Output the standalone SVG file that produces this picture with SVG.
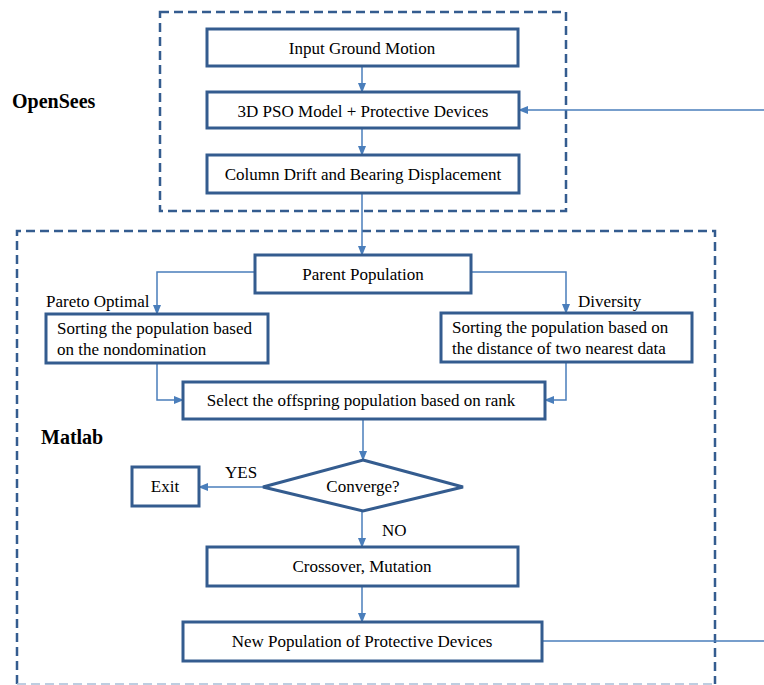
<svg xmlns="http://www.w3.org/2000/svg" width="764" height="685" viewBox="0 0 764 685">
<defs>
<marker id="ah" markerWidth="10" markerHeight="8" refX="9" refY="4" orient="auto" markerUnits="userSpaceOnUse">
<path d="M0,0 L10,4 L0,8 Z" fill="#4A7EBB"/>
</marker>
<style>
.box{fill:#fff;stroke:#345C8F;stroke-width:3}
.grp{fill:none;stroke:#345C8F;stroke-width:2.5;stroke-dasharray:9,5}
.c{fill:none;stroke:#4A7EBB;stroke-width:1.5}
.t{font-family:"Liberation Serif",serif;font-size:17px;fill:#000}
.m{text-anchor:middle}
.b{font-family:"Liberation Serif",serif;font-size:20px;font-weight:bold;fill:#000}
</style>
</defs>
<rect class="grp" x="160" y="12" width="406" height="199"/>
<path class="grp" d="M17,684 V231 H715 V684"/>
<path d="M17,684 H715" fill="none" stroke="#A9BED8" stroke-width="1.5" stroke-dasharray="9,5"/>
<text class="b" x="12" y="108">OpenSees</text>
<text class="b" x="41" y="444">Matlab</text>
<g id="connectors">
<path class="c" d="M362,66 V92" marker-end="url(#ah)"/>
<path class="c" d="M362,128 V155" marker-end="url(#ah)"/>
<path class="c" d="M362,193 V255" marker-end="url(#ah)"/>
<path class="c" d="M764,110 H519" marker-end="url(#ah)"/>
<path class="c" d="M255,272 H157 V314" marker-end="url(#ah)"/>
<path class="c" d="M471,272 H566 V313" marker-end="url(#ah)"/>
<path class="c" d="M157,363 V400 H183" marker-end="url(#ah)"/>
<path class="c" d="M566,362 V400 H545" marker-end="url(#ah)"/>
<path class="c" d="M363,419 V460" marker-end="url(#ah)"/>
<path class="c" d="M263,487 H199" marker-end="url(#ah)"/>
<path class="c" d="M362,511 V547" marker-end="url(#ah)"/>
<path class="c" d="M362,586 V622" marker-end="url(#ah)"/>
<path class="c" d="M542,641 H764"/>
</g>
<g id="n1"><rect class="box" x="207" y="29" width="311" height="37"/><text class="t m" x="362" y="53.5">Input Ground Motion</text></g>
<g id="n2"><rect class="box" x="207" y="92" width="312" height="36"/><text class="t m" x="363" y="116.5">3D PSO Model + Protective Devices</text></g>
<g id="n3"><rect class="box" x="207" y="155" width="312" height="38"/><text class="t m" x="363" y="180">Column Drift and Bearing Displacement</text></g>
<g id="n4"><rect class="box" x="255" y="255" width="216" height="38"/><text class="t m" x="363" y="279.5">Parent Population</text></g>
<text class="t" x="46" y="307">Pareto Optimal</text>
<text class="t" x="578" y="307">Diversity</text>
<g id="n5"><rect class="box" x="46" y="314" width="222" height="49"/><text class="t" x="57" y="334">Sorting the population based</text><text class="t" x="57" y="355">on the nondomination</text></g>
<g id="n6"><rect class="box" x="441" y="313" width="251" height="49"/><text class="t" x="452" y="333">Sorting the population based on</text><text class="t" x="452" y="354">the distance of two nearest data</text></g>
<g id="n7"><rect class="box" x="183" y="382" width="362" height="37"/><text class="t m" x="361" y="406">Select the offspring population based on rank</text></g>
<g id="n8"><polygon class="box" points="363,460 463,487 363,511 263,487"/><text class="t m" x="363" y="492">Converge?</text></g>
<g id="n9"><rect class="box" x="132" y="467" width="67" height="39"/><text class="t m" x="165" y="492">Exit</text></g>
<text class="t" x="225" y="478">YES</text>
<text class="t" x="382" y="536">NO</text>
<g id="n10"><rect class="box" x="207" y="547" width="311" height="39"/><text class="t m" x="362" y="572">Crossover, Mutation</text></g>
<g id="n11"><rect class="box" x="183" y="622" width="359" height="39"/><text class="t m" x="362" y="647">New Population of Protective Devices</text></g>
</svg>
